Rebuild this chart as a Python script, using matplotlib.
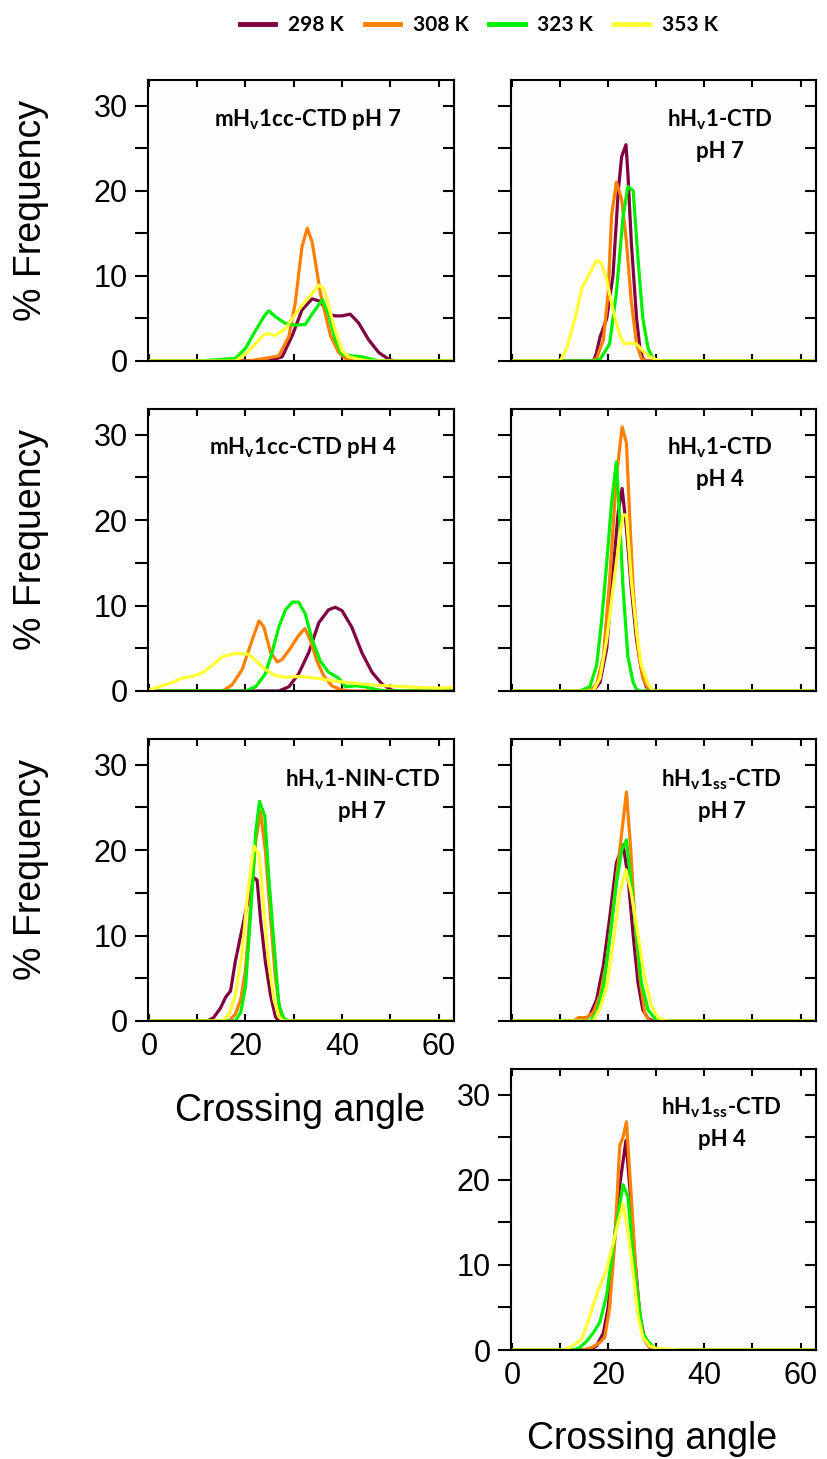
import matplotlib
matplotlib.use("Agg")
import matplotlib.pyplot as plt
from matplotlib.lines import Line2D
from matplotlib.ticker import MultipleLocator, NullFormatter

plt.rcParams['font.family'] = ['Liberation Sans', 'DejaVu Sans']
plt.rcParams['mathtext.fontset'] = 'custom'
plt.rcParams['mathtext.rm'] = 'Lato:bold'
plt.rcParams['mathtext.it'] = 'Lato:bold'
plt.rcParams['mathtext.bf'] = 'Lato:bold'

temps = ['298 K', '308 K', '323 K', '353 K']
colors = ['#800040', '#FF8000', '#00F000', '#FFFF33']

# ---- data: (crossing angle, % frequency) ----
A_298 = [(0,0),(24.8,0),(27.6,0.5),(29.7,3),(31.7,6),(33.8,7.3),(35.5,7.0),(37.2,5.5),(38.6,5.3),(40,5.3),(41.7,5.5),(43.4,4.5),(45.5,2.5),(47.6,1),(49.7,0.2),(51,0),(63,0)]
A_308 = [(0,0),(20.7,0),(24,0.3),(26.9,0.6),(29,2.9),(30.3,6.8),(31.7,13.4),(32.8,15.6),(33.8,14),(35.5,8),(37.6,3),(39.3,1),(40.7,0.3),(42.8,0),(63,0)]
A_323 = [(0,0),(10,0),(13,0.1),(15.2,0.2),(17.9,0.3),(20,1.5),(22,3.5),(23.8,5.2),(24.8,5.9),(26.2,5.2),(28.3,4.4),(30.3,4.2),(32.4,4.3),(33.8,5.5),(35.9,7.2),(37.2,5.5),(38.6,2.5),(40,0.8),(42,0.6),(44.1,0.5),(46.2,0.2),(47.6,0),(63,0)]
A_353 = [(0,0),(17.9,0),(20,0.8),(22,2),(23.8,3.1),(24.8,3.2),(26.2,3.0),(28.3,3.8),(30.3,5.5),(32.4,7),(35.2,8.9),(36.2,8.5),(37.2,6.5),(38.6,3.5),(40,1.2),(41.4,0.5),(43.4,0.2),(45.5,0),(63,0)]

B_298 = [(0,0),(16.9,0),(17.5,0.8),(18.3,2.8),(19.7,5),(21,10),(22.1,20),(22.8,24),(23.7,25.4),(24.1,22),(24.8,14),(25.9,5),(26.6,1.5),(27.2,0.3),(27.9,0),(63,0)]
B_308 = [(0,0),(16.5,0),(17.6,0.3),(19,2.5),(20,8),(20.7,17),(21.7,21),(22.8,19),(23.8,14),(24.8,7),(25.9,2),(26.9,0.3),(27.9,0),(63,0)]
B_323 = [(0,0),(17,0),(18.3,0.2),(20.3,2),(21.7,8),(23.1,17),(24.1,20.5),(25.2,20),(26.2,12),(27.2,5),(28.3,1.5),(29.3,0.3),(30.7,0),(63,0)]
B_353 = [(0,0),(10,0),(11.4,1.5),(13.1,5),(14.5,8.5),(15.9,10),(17.6,11.8),(18.6,11.5),(19.7,9.5),(21,6),(22.4,3),(23.4,2),(24.8,2.1),(25.9,2.0),(27.2,1.2),(28.6,0.5),(30.3,0.1),(31.4,0),(63,0)]

C_298 = [(0,0),(26.9,0),(29,0.5),(31,2),(33.1,4.5),(35.2,8),(37.2,9.5),(38.6,9.8),(40,9.4),(42,7.5),(44.1,4.5),(46.2,2.2),(48.3,0.8),(50.3,0.1),(51.7,0),(63,0)]
C_308 = [(0,0),(15.2,0),(17.2,0.7),(19.3,2.5),(21.4,6),(22.8,8.2),(23.8,7.5),(25.2,4.5),(26.6,3.4),(27.6,3.7),(29.3,5),(31,6.5),(32.3,7.3),(33.4,6),(34.8,3.5),(36.2,1.8),(37.9,0.6),(40,0.1),(42,0),(63,0)]
C_323 = [(0,0),(20,0),(22.1,0.5),(24.1,2),(25.5,4.5),(26.9,7.5),(28.3,9.5),(29.7,10.4),(31,10.4),(32.4,9),(33.8,6),(35.5,3.5),(37.2,2.2),(39.3,1.5),(40.7,0.5),(42.8,0.6),(44.8,0.5),(46.9,0.2),(49,0),(63,0)]
C_353 = [(0,0.1),(2.1,0.5),(4.8,1),(6.9,1.5),(9,1.7),(11,2.1),(13.1,3.0),(15.2,4.0),(17.9,4.4),(20.7,4.3),(22.1,3.6),(24.1,2.5),(26.2,1.8),(28.3,1.6),(31,1.7),(33.1,1.6),(35.9,1.4),(39.3,1.1),(42.8,0.9),(46.2,0.7),(49.7,0.6),(53.1,0.5),(56.6,0.4),(60,0.35),(63,0.4)]

D_298 = [(0,0),(16.9,0),(18.3,1),(19.7,5),(21,14),(22.1,21),(22.9,23.7),(23.8,19),(24.8,12),(25.9,6),(26.9,2.5),(27.9,0.5),(29,0),(63,0)]
D_308 = [(0,0),(16.2,0),(17.6,0.8),(19,4),(20.3,13),(21.7,25),(22.9,30.9),(23.8,29),(24.5,20),(25.2,12),(26.2,5),(27.2,1.5),(28.3,0.3),(29.3,0),(63,0)]
D_323 = [(0,0),(14.1,0),(16.2,0.5),(17.6,3),(18.6,8),(19.7,15),(20.7,22),(21.7,26.8),(22.4,20),(23.1,12),(24.1,4),(25.2,1),(25.9,0.2),(26.6,0),(63,0)]
D_353 = [(0,0),(16.9,0),(18.3,1.5),(19.7,6),(21,12),(22.4,18),(23.1,20.6),(23.8,20.6),(24.8,13),(25.9,7),(26.9,3),(28.3,0.8),(29.3,0),(63,0)]

E_298 = [(0,0),(12.1,0),(13.4,0.4),(14.8,1.5),(15.9,2.8),(16.9,3.5),(17.9,7),(19,10),(20.3,13.5),(21.7,16.8),(22.4,16.5),(23.1,12),(24.1,7),(25.2,3),(26.2,0.5),(26.9,0),(63,0)]
E_308 = [(0,0),(16.6,0),(17.9,0.8),(19,2.5),(20,6),(21,13),(22.1,21),(23.1,24.5),(24.1,20),(25.2,12),(26.2,5),(27.2,1),(28.3,0),(63,0)]
E_323 = [(0,0),(17.9,0),(19,1),(20,4),(21,12),(22.1,22),(22.9,25.7),(24,24),(24.8,17),(25.9,9),(26.9,2),(27.9,0.3),(29,0),(63,0)]
E_353 = [(0,0),(15.2,0),(16.6,0.8),(17.9,3),(19.3,8),(20.3,14),(21.7,20.5),(22.8,19.5),(23.8,13),(24.8,7),(25.9,2.5),(26.9,0.5),(27.9,0),(63,0)]

F_298 = [(0,0),(14.8,0),(16.2,0.7),(17.6,2.5),(19,6.5),(20.3,12),(21.7,18.5),(23.1,20.6),(24.1,17),(25.2,10),(26.2,4.5),(27.2,1.3),(28.3,0.3),(29.3,0),(63,0)]
F_308 = [(0,0),(12.8,0),(13.8,0.4),(15.5,0.4),(16.9,1),(18.3,3),(19.7,7),(21,13),(22.4,20),(23.8,26.8),(24.7,20),(25.5,12),(26.6,5),(27.6,1),(28.6,0),(63,0)]
F_323 = [(0,0),(16.2,0),(17.6,1),(19,4),(20.3,9.5),(21.7,16),(22.8,20),(23.8,21.2),(24.8,16),(25.9,10),(26.9,4.5),(28.3,1.3),(29.7,0.3),(31.4,0),(63,0)]
F_353 = [(0,0),(16.9,0),(18.3,1.5),(19.7,4),(21,9),(22.4,15),(23.7,17.7),(24.8,15),(26.2,10),(27.6,5),(29,1.8),(30.3,0.4),(32.1,0),(63,0)]

G_298 = [(0,0),(16.2,0),(17.6,0.5),(19,2),(20,5),(21,11),(22.1,18),(22.8,21),(23.7,24.6),(24.5,19),(25.5,11),(26.6,4),(27.6,1.2),(29,0),(63,0)]
G_308 = [(0,0),(14.8,0),(16.6,0.3),(18.3,0.9),(19.3,1.5),(20.3,5),(21.4,13),(22.4,24),(23.1,25),(23.8,26.8),(24.8,18),(25.9,8),(26.9,2.5),(27.9,0.8),(29.3,0),(63,0)]
G_323 = [(0,0),(12.8,0),(14.1,0.3),(15.5,1),(16.9,2),(18.3,3.3),(19.7,6.5),(21,12),(22.1,16),(23.1,19.4),(24.1,18),(25.2,11),(26.2,6),(27.2,2),(28.3,1),(29.7,0.2),(30.7,0),(63,0)]
G_353 = [(0,0),(10.7,0),(12.4,0.4),(14.5,1.3),(15.9,3.5),(17.6,6.5),(19.7,9.5),(21,12.5),(22.1,15),(23.1,17.2),(24.1,14),(25.2,9),(26.2,4),(27.2,1.5),(28.6,0.5),(30,0.2),(34.8,0),(63,0)]

W, H = 827, 1459
fig = plt.figure(figsize=(W / 100, H / 100), dpi=100)

def rect(l, t, r, b):
    return [l / W, 1 - b / H, (r - l) / W, (b - t) / H]

colL = (148, 454)
colR = (511, 816)
rows = [(80, 361), (409, 691), (739, 1021), (1069, 1350)]

panels = [
    (colL, rows[0], [A_298, A_308, A_323, A_353], [r'mH$_\mathrm{v}$1cc-CTD pH 7'], (0.52, 0.858), False, True),
    (colR, rows[0], [B_298, B_308, B_323, B_353], [r'hH$_\mathrm{v}$1-CTD', 'pH 7'], (0.685, 0.858), False, False),
    (colL, rows[1], [C_298, C_308, C_323, C_353], [r'mH$_\mathrm{v}$1cc-CTD pH 4'], (0.507, 0.865), False, True),
    (colR, rows[1], [D_298, D_308, D_323, D_353], [r'hH$_\mathrm{v}$1-CTD', 'pH 4'], (0.685, 0.862), False, False),
    (colL, rows[2], [E_298, E_308, E_323, E_353], [r'hH$_\mathrm{v}$1-NIN-CTD', 'pH 7'], (0.70, 0.855), True, True),
    (colR, rows[2], [F_298, F_308, F_323, F_353], [r'hH$_\mathrm{v}$1$_\mathrm{ss}$-CTD', 'pH 7'], (0.69, 0.855), False, False),
    (colR, rows[3], [G_298, G_308, G_323, G_353], [r'hH$_\mathrm{v}$1$_\mathrm{ss}$-CTD', 'pH 4'], (0.69, 0.861), True, True),
]

xfmt = plt.FuncFormatter(lambda v, p: (str(int(round(v))) if int(round(v)) % 20 == 0 else ''))
yfmt = plt.FuncFormatter(lambda v, p: (str(int(round(v))) if int(round(v)) % 10 == 0 else ''))

for col, row, series, labels, pos, showx, showy in panels:
    ax = fig.add_axes(rect(col[0], row[0], col[1], row[1]))
    ax.set_facecolor('#fdfdfd')
    for s, c in zip(series, colors):
        xs = [p[0] for p in s]
        ys = [p[1] for p in s]
        ax.plot(xs, ys, color=c, lw=2.3)
    ax.set_xlim(-0.2, 63.2)
    ax.set_ylim(0, 33)
    ax.xaxis.set_major_locator(MultipleLocator(10))
    ax.yaxis.set_major_locator(MultipleLocator(5))
    ax.xaxis.set_major_formatter(xfmt)
    ax.yaxis.set_major_formatter(yfmt)
    ax.tick_params(axis='x', which='both', direction='in', length=5, width=1.5,
                   top=True, bottom=True, labelsize=22, pad=8, labelbottom=showx)
    ax.tick_params(axis='y', which='both', direction='out', length=9.5, width=1.5,
                   left=True, right=False, labelsize=22, pad=5, labelleft=showy)
    for sp in ax.spines.values():
        sp.set_linewidth(1.5)
    sec = ax.secondary_yaxis('right')
    sec.yaxis.set_major_locator(MultipleLocator(5))
    sec.yaxis.set_major_formatter(NullFormatter())
    sec.tick_params(direction='in', length=8, width=1.5)
    sec.spines['right'].set_linewidth(1.5)
    for i, lab in enumerate(labels):
        ax.text(pos[0], pos[1] - i * 0.113, lab, transform=ax.transAxes,
                ha='center', va='center', fontsize=16, family='Lato', weight='bold')

for (t, b) in rows[:3]:
    fig.text(31 / W, 1 - ((t + b) / 2 - 10) / H, '% Frequency', rotation=90,
             ha='center', va='center', fontsize=27)

fig.text(300 / W, 1 - 1121 / H, 'Crossing angle', ha='center', va='baseline', fontsize=27)
fig.text(652 / W, 1 - 1449 / H, 'Crossing angle', ha='center', va='baseline', fontsize=27)

handles = [Line2D([0], [0], color=c, lw=3.5) for c in colors]
fig.legend(handles, temps, loc='center', bbox_to_anchor=(479 / W, 1 - 25 / H), ncol=4,
           frameon=False, prop={'family': 'Lato', 'weight': 'bold', 'size': 15},
           handlelength=1.7, handletextpad=0.6, columnspacing=1.0)

fig.savefig('out.png', dpi=100, facecolor='white')
